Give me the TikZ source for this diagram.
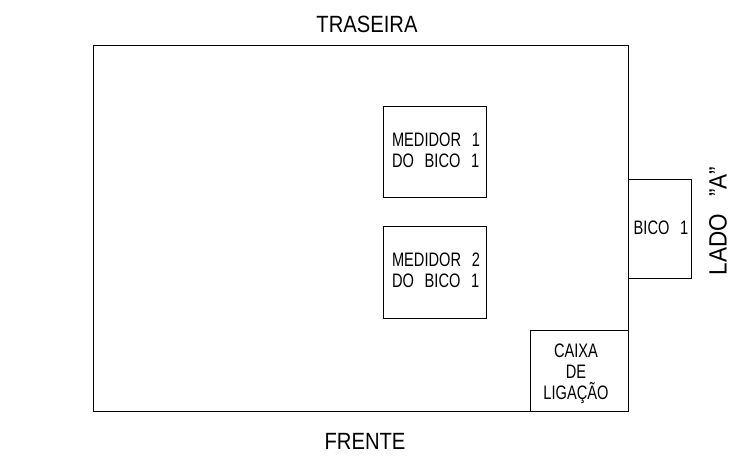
\documentclass[tikz,border=0pt]{standalone}
\usepackage{fontspec}
\setmainfont{Liberation Sans}
\newfontfamily\cadfont[FakeStretch=0.75]{Liberation Sans}
\newfontfamily\cadwide[FakeStretch=0.86]{Liberation Sans}
\newfontfamily\cadside[FakeStretch=0.9]{Liberation Sans}
\begin{document}
\begin{tikzpicture}[x=1pt,y=-1pt,
  box/.style={draw=black, line width=0.8pt, inner sep=0pt, fill=none},
  lbl/.style={inner sep=0pt, font=\cadfont\fontsize{19.5}{21}\selectfont},
  big/.style={inner sep=0pt, font=\cadwide\fontsize{23.5}{25}\selectfont},
  side/.style={inner sep=0pt, font=\cadside\fontsize{25}{27}\selectfont}]
\useasboundingbox (0,0) rectangle (750,470);
\fill[white] (0,0) rectangle (750,470);
\node[box, minimum width=535pt, minimum height=366pt] (main) at (360.5,228) {};
\node[box, minimum width=103pt, minimum height=91pt] (m1) at (434.5,151.5) {};
\node[box, minimum width=103pt, minimum height=92pt] (m2) at (434.5,272) {};
\node[box, minimum width=63pt, minimum height=99pt] (bico) at (659.5,228.5) {};
\node[box, minimum width=98pt, minimum height=81pt] (caixa) at (579,370.5) {};
\node[lbl, align=left] (t1) at (436,150) {MEDIDOR\hspace{0.55em}1\\DO\hspace{0.55em}BICO\hspace{0.55em}1};
\node[lbl, align=left] (t2) at (436,270) {MEDIDOR\hspace{0.55em}2\\DO\hspace{0.55em}BICO\hspace{0.55em}1};
\node[lbl] (tb) at (661,228) {BICO\hspace{0.55em}1};
\node[lbl, align=center] (tc) at (576,374) {CAIXA\\DE\\LIGAÇÃO};
\node[big] (tr) at (367,24) {TRASEIRA};
\node[big] (fr) at (365,441) {FRENTE};
\node[side, rotate=90] (la) at (718,221) {LADO\hspace{0.7em}”A”};
\end{tikzpicture}
\end{document}
